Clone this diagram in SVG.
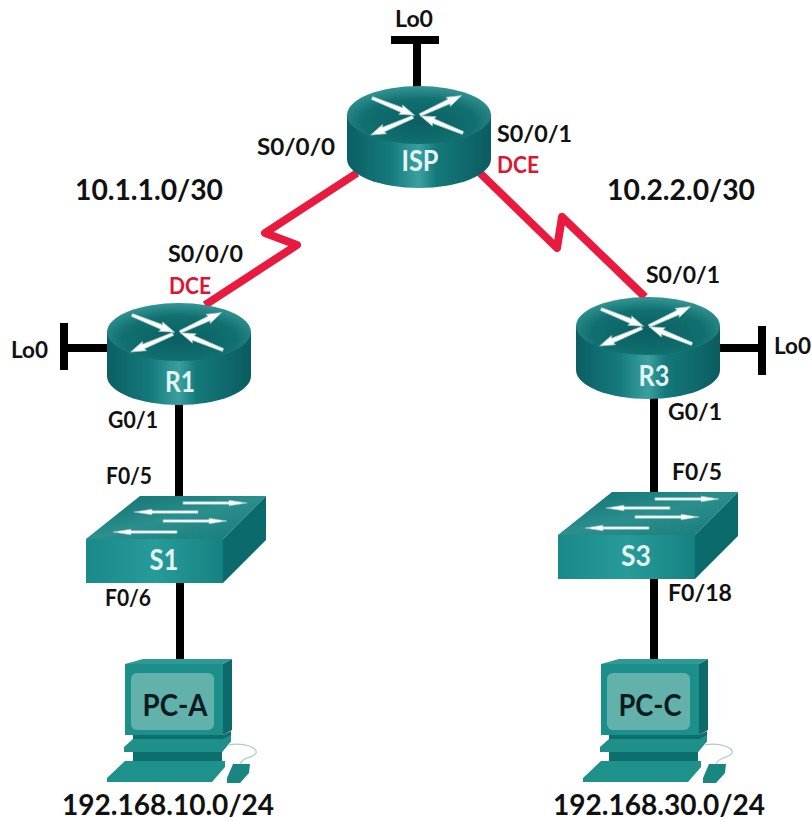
<svg xmlns="http://www.w3.org/2000/svg" width="812" height="822" viewBox="0 0 812 822">
<style>
text{font-family:"Lato","Open Sans","Liberation Sans",sans-serif;font-weight:700}
.l{font-size:23px;fill:#111}
.d{font-size:23px;fill:#dd1533}
.n{font-size:29px;fill:#111}
.w{font-size:29px;fill:#e2f4f3;text-anchor:middle}
.p{font-size:30px;fill:#0a1c20;text-anchor:middle}
.b{stroke:#000;stroke-width:8;fill:none}
.r{stroke:#ea1a3e;stroke-width:8;fill:none;stroke-linejoin:round}
.ar{fill:#fff;stroke:#9fc4c4;stroke-width:.7}
</style>
<defs>
<linearGradient id="side" x1="0" x2="1" y1="0" y2="0">
<stop offset="0" stop-color="#0b5f63"/><stop offset=".3" stop-color="#157a7c"/><stop offset=".5" stop-color="#3aa09f"/><stop offset=".62" stop-color="#14797a"/><stop offset="1" stop-color="#0a5c60"/>
</linearGradient>
<radialGradient id="top" cx=".5" cy=".62" r=".6">
<stop offset="0" stop-color="#0a5f62"/><stop offset=".65" stop-color="#11706f"/><stop offset="1" stop-color="#319392"/>
</radialGradient>
<linearGradient id="sw" x1="0" x2="1" y1="0" y2="1">
<stop offset="0" stop-color="#0f6f70"/><stop offset=".5" stop-color="#2a8f8d"/><stop offset="1" stop-color="#157a78"/>
</linearGradient>
<linearGradient id="fr" x1="0" x2="1" y1="0" y2="0">
<stop offset="0" stop-color="#19898a"/><stop offset=".5" stop-color="#279b99"/><stop offset="1" stop-color="#158282"/>
</linearGradient>
<polygon id="ra" class="ar" points="0,-1.5 32,-2.5 31,-5 46,0 31,5 32,2.5 0,1.5"/>
<polygon id="sa" class="ar" points="0,-1.2 46,-1.2 46,-2.8 64,0 46,2.8 46,1.2 0,1.2"/>
<g id="router">
<path d="M-72,0V44A72,29 0 0 0 72,44V0Z" fill="url(#side)"/>
<ellipse rx="72" ry="29" fill="url(#top)"/>
<g transform="translate(0,2)">
<use href="#ra" transform="translate(-47,-19) rotate(22)"/>
<use href="#ra" transform="translate(1,-2) rotate(-25)"/>
<use href="#ra" transform="translate(-6,0) rotate(157)"/>
<use href="#ra" transform="translate(44,16) rotate(202)"/>
</g>
</g>
<g id="switch">
<polygon points="140,496 266,496 223,539 86,539" fill="url(#sw)"/>
<rect x="86" y="539" width="137" height="44" fill="url(#fr)"/>
<polygon points="223,539 266,496 266,540 223,583" fill="#0b6a6b"/>
<use href="#sa" transform="translate(183,503)"/>
<use href="#sa" transform="translate(198,512) rotate(180)"/>
<use href="#sa" transform="translate(163,521)"/>
<use href="#sa" transform="translate(177,532) rotate(180)"/>
</g>
<g id="pc">
<polygon points="125,664 143,659 232,659 223,664" fill="#2f9a95"/>
<rect x="125" y="664" width="98" height="71" fill="#1c8f8a"/>
<polygon points="223,664 232,659 232,730 223,735" fill="#0c6a6b"/>
<rect x="131" y="673" width="83" height="57" rx="6" fill="#62b1ab"/>
<polygon points="133,735 223,735 231,731 231,741 222,752 222,762 133,762" fill="#0d6e6e"/>
<polygon points="124,747 133,739 223,739 231,735 231,741 222,752 124,752" fill="#1f8f89"/>
<polygon points="125,761 225,761 225,767 212,782 107,782 107,778" fill="#1f918b"/>
<polygon points="233,764 250,764 249,773 240,783 227,783 227,778" fill="#1a8681"/>
<path d="M228,745C245,742 258,748 256,753C254,758 242,757 240,764" fill="none" stroke="#a8cfc8" stroke-width="1.2"/>
</g>
</defs>
<g id="connectors">
<path class="r" d="M357,173L265,233L297,245L205,305"/>
<path class="r" d="M480,173L557,248L562,217L645,297"/>
<path class="b" d="M417,44V90M391,40H439"/>
<path class="b" d="M112,348H64M64,323V370"/>
<path class="b" d="M715,348H762M762,326V375"/>
<path class="b" d="M179,400V500"/>
<path class="b" d="M180,580V665"/>
<path class="b" d="M654,395V496"/>
<path class="b" d="M654,575V665"/>
</g>
<g id="ISP"><use href="#router" transform="translate(419,115)"/><text class="w" x="420" y="171" textLength="37" lengthAdjust="spacingAndGlyphs">ISP</text></g>
<g id="R1"><use href="#router" transform="translate(179,332)"/><text class="w" x="180" y="392" textLength="30" lengthAdjust="spacingAndGlyphs">R1</text></g>
<g id="R3"><use href="#router" transform="translate(648,326)"/><text class="w" x="654" y="386" textLength="31" lengthAdjust="spacingAndGlyphs">R3</text></g>
<g id="S1"><use href="#switch"/><text class="w" x="164" y="570" textLength="29" lengthAdjust="spacingAndGlyphs">S1</text></g>
<g id="S3"><use href="#switch" transform="translate(472,-4)"/><text class="w" x="636" y="566" textLength="30" lengthAdjust="spacingAndGlyphs">S3</text></g>
<g id="PC-A"><use href="#pc"/><text class="p" x="175" y="716" textLength="65" lengthAdjust="spacingAndGlyphs">PC-A</text></g>
<g id="PC-C"><use href="#pc" transform="translate(476,0)"/><text class="p" x="650" y="716" textLength="63" lengthAdjust="spacingAndGlyphs">PC-C</text></g>
<g id="labels">
<text class="l" x="395" y="27" textLength="38" lengthAdjust="spacingAndGlyphs">Lo0</text>
<text class="l" x="257" y="155" textLength="78" lengthAdjust="spacingAndGlyphs">S0/0/0</text>
<text class="l" x="497" y="142" textLength="75" lengthAdjust="spacingAndGlyphs">S0/0/1</text>
<text class="d" x="497" y="173" textLength="42" lengthAdjust="spacingAndGlyphs">DCE</text>
<text class="n" x="75" y="200" textLength="148" lengthAdjust="spacingAndGlyphs">10.1.1.0/30</text>
<text class="n" x="607" y="200" textLength="148" lengthAdjust="spacingAndGlyphs">10.2.2.0/30</text>
<text class="l" x="168" y="262" textLength="75" lengthAdjust="spacingAndGlyphs">S0/0/0</text>
<text class="d" x="169" y="294" textLength="42" lengthAdjust="spacingAndGlyphs">DCE</text>
<text class="l" x="646" y="283" textLength="74" lengthAdjust="spacingAndGlyphs">S0/0/1</text>
<text class="l" x="11" y="358" textLength="37" lengthAdjust="spacingAndGlyphs">Lo0</text>
<text class="l" x="774" y="354" textLength="37" lengthAdjust="spacingAndGlyphs">Lo0</text>
<text class="l" x="108" y="428" textLength="50" lengthAdjust="spacingAndGlyphs">G0/1</text>
<text class="l" x="106" y="484" textLength="46" lengthAdjust="spacingAndGlyphs">F0/5</text>
<text class="l" x="105" y="606" textLength="46" lengthAdjust="spacingAndGlyphs">F0/6</text>
<text class="l" x="668" y="420" textLength="54" lengthAdjust="spacingAndGlyphs">G0/1</text>
<text class="l" x="672" y="480" textLength="50" lengthAdjust="spacingAndGlyphs">F0/5</text>
<text class="l" x="668" y="601" textLength="64" lengthAdjust="spacingAndGlyphs">F0/18</text>
<text class="n" x="62" y="815" textLength="212" lengthAdjust="spacingAndGlyphs">192.168.10.0/24</text>
<text class="n" x="553" y="815" textLength="212" lengthAdjust="spacingAndGlyphs">192.168.30.0/24</text>
</g>
</svg>
